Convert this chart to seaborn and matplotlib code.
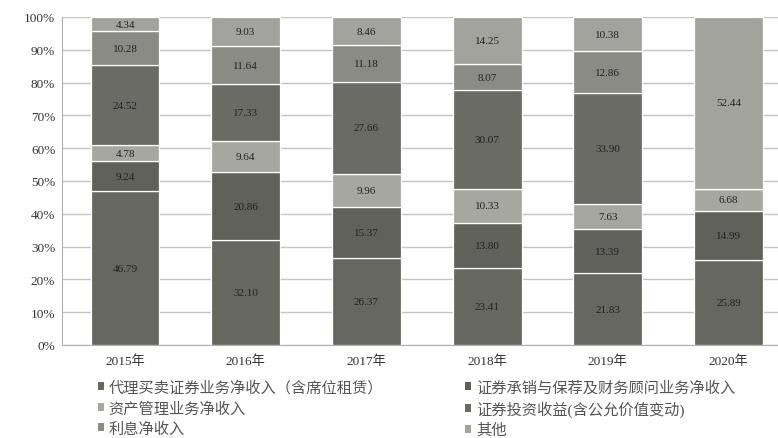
import numpy as np
import pandas as pd
import matplotlib.pyplot as plt
import seaborn as sns
from matplotlib.patches import Patch

years = ['2015年', '2016年', '2017年', '2018年', '2019年', '2020年']

# stacked bottom -> top (values as printed on the bars, %)
brokerage = [46.79, 32.10, 26.37, 23.41, 21.83, 25.89]
underwriting = [9.24, 20.86, 15.37, 13.80, 13.39, 14.99]
asset_mgmt = [4.78, 9.64, 9.96, 10.33, 7.63, 6.68]
investment = [24.52, 17.33, 27.66, 30.07, 33.90, 0.0]
interest = [10.28, 11.64, 11.18, 8.07, 12.86, 0.0]
other = [4.34, 9.03, 8.46, 14.25, 10.38, 52.44]

series_names = [
    '代理买卖证券业务净收入（含席位租赁）',
    '证券承销与保荐及财务顾问业务净收入',
    '资产管理业务净收入',
    '证券投资收益(含公允价值变动)',
    '利息净收入',
    '其他',
]
series_vals = [brokerage, underwriting, asset_mgmt, investment, interest, other]
colors = ['#67695f', '#606259', '#a6a89f', '#6a6c63', '#8a8c83', '#a2a49b']

sns.set_style('white')
plt.rcParams['font.family'] = ['Liberation Serif', 'Noto Sans CJK SC', 'DejaVu Sans']

fig = plt.figure(figsize=(7.78, 4.39), dpi=100)
ax = fig.add_axes([0.08, 0.212, 0.92, 0.747])

# 100% stacked: scale each year to a full bar
totals = np.sum(np.array(series_vals), axis=0)
df = pd.DataFrame({'year': years})
bottom = np.zeros(len(years))
for name, vals, col in zip(series_names, series_vals, colors):
    h = np.array(vals) / totals * 100
    df['v'] = h
    sns.barplot(data=df, x='year', y='v', color=col, width=0.57,
                bottom=bottom.copy(), edgecolor='white', linewidth=0.9, ax=ax,
                zorder=3)
    for i, v in enumerate(vals):
        if v > 0:
            ax.text(i, bottom[i] + h[i] / 2, f'{v:.2f}', ha='center', va='center',
                    fontsize=8, color='#222222', zorder=4)
    bottom += h

ax.set_ylim(0, 100)
ax.set_xlim(-0.52, 5.41)
ax.set_yticks(np.arange(0, 101, 10))
ax.set_yticklabels([f'{t}%' for t in range(0, 101, 10)], fontsize=9.5, color='#333333')
ax.tick_params(axis='x', labelsize=9.5, colors='#333333', length=0, pad=7)
ax.tick_params(axis='y', length=0, pad=5)
ax.set_xlabel('')
ax.set_ylabel('')
ax.yaxis.grid(True, color='#c4c4c4', linewidth=1.0, zorder=0)
ax.set_axisbelow(True)
for s in ['top', 'right']:
    ax.spines[s].set_visible(False)
ax.spines['left'].set_color('#b0b0b0')
ax.spines['bottom'].set_color('#b0b0b0')

# legend in two columns, each drawn separately so rows line up
leg_kw = dict(loc='upper left', frameon=False, fontsize=11, handlelength=0.4,
              handleheight=0.4, handletextpad=0.3, labelspacing=0.4,
              labelcolor='#555555', borderaxespad=0, borderpad=0)
for idxs, x0 in [([0, 2, 4], 0.126), ([1, 3, 5], 0.598)]:
    handles = [Patch(facecolor=colors[i], edgecolor='none') for i in idxs]
    labels = [series_names[i] for i in idxs]
    leg = fig.legend(handles, labels, bbox_to_anchor=(x0, 0.133), **leg_kw)

fig.savefig('out.png', dpi=100)
